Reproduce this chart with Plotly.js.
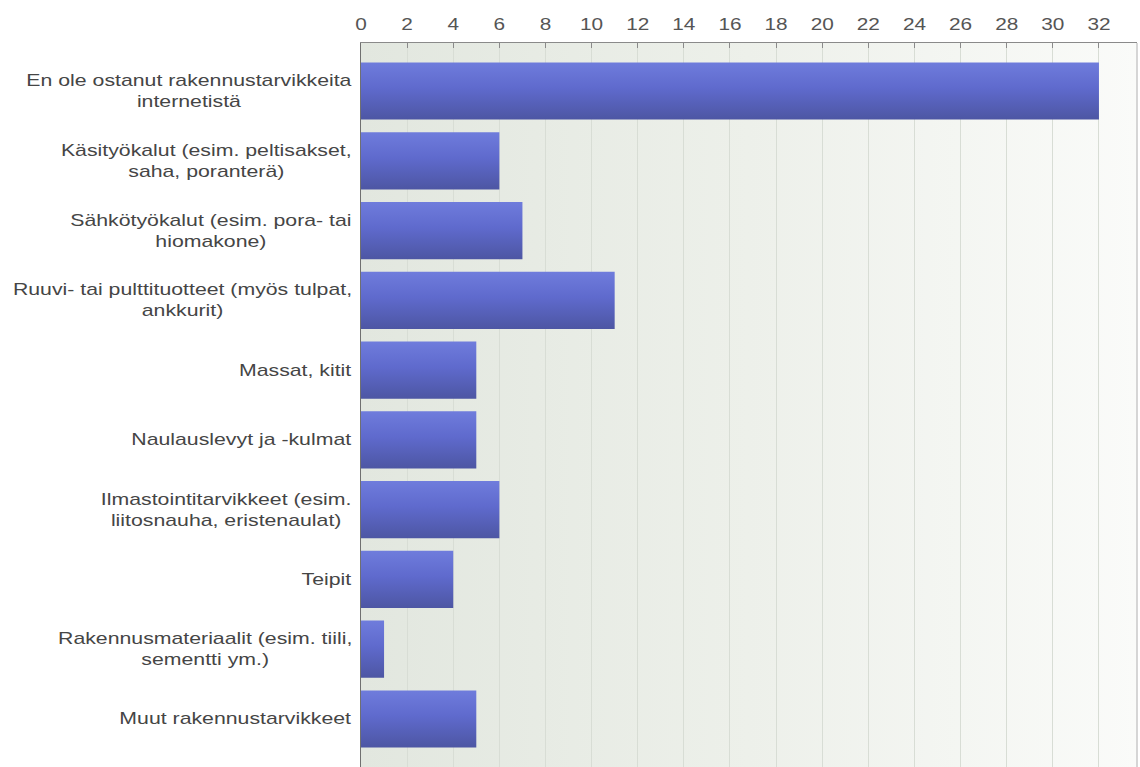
<!DOCTYPE html>
<html>
<head>
<meta charset="utf-8">
<script src="https://cdn.plot.ly/plotly-3.0.1.min.js"></script>
<style>
html,body{margin:0;padding:0;background:#fff;}
#chart{width:1140px;height:767px;}
</style>
</head>
<body>
<div id="chart"></div>
<script>
var categories = [
  "En ole ostanut rakennustarvikkeita<br>internetistä",
  "Käsityökalut (esim. peltisakset,<br>saha, poranterä)",
  "Sähkötyökalut (esim. pora- tai<br>hiomakone)",
  "Ruuvi- tai pulttituotteet (myös tulpat,<br>ankkurit)",
  "Massat, kitit",
  "Naulauslevyt ja -kulmat",
  "Ilmastointitarvikkeet (esim.<br>liitosnauha, eristenaulat)",
  "Teipit",
  "Rakennusmateriaalit (esim. tiili,<br>sementti ym.)",
  "Muut rakennustarvikkeet"
];
var counts = [32, 6, 7, 11, 5, 5, 6, 4, 1, 5];
var tickValues = [0,2,4,6,8,10,12,14,16,18,20,22,24,26,28,30,32];

var font = "Liberation Sans, Arial, sans-serif";

var trace = {
  type: 'bar',
  orientation: 'h',
  x: counts,
  y: categories,
  width: 0.82,
  marker: {color: '#5d68c9', line: {width: 0}},
  hoverinfo: 'x+y'
};

var annotations = categories.map(function(c){
  return {
    xref: 'paper', yref: 'y', x: 0, y: c,
    xanchor: 'right', yanchor: 'middle', xshift: -7,
    text: c, showarrow: false, align: 'center',
    font: {family: font, size: 16, color: '#454545'}
  };
});

var layout = {
  width: 1140, height: 767,
  margin: {l: 361, r: 3, t: 43, b: 0, pad: 0},
  paper_bgcolor: '#ffffff',
  plot_bgcolor: '#eef1ec',
  showlegend: false,
  xaxis: {
    side: 'top',
    range: [0, 33.65],
    tickvals: tickValues,
    ticktext: tickValues.map(String),
    showline: true, linecolor: '#8a8a8a', linewidth: 1.5,
    ticks: 'inside', ticklen: 5, tickcolor: '#8a8a8a',
    ticklabelstandoff: 5,
    showgrid: true, gridcolor: '#d8ddd5', gridwidth: 1,
    zeroline: false,
    tickfont: {family: font, size: 16, color: '#555555'}
  },
  yaxis: {
    type: 'category',
    range: [9.688, -0.688],
    showticklabels: false,
    showline: true, linecolor: '#707070', linewidth: 1.5,
    showgrid: false, zeroline: false, ticks: ''
  },
  annotations: annotations,
  shapes: [{
    type: 'line', xref: 'paper', yref: 'paper',
    x0: 1, x1: 1, y0: 0, y1: 1,
    line: {color: '#c8c8c8', width: 1.5}
  }]
};

function stretch(el, sx, anchor){
  var b = el.getBBox();
  var cx = anchor === 'right' ? b.x + b.width : b.x + b.width / 2;
  var t = el.getAttribute('transform') || '';
  el.setAttribute('transform', t + ' translate(' + cx + ',0) scale(' + sx + ',1) translate(' + (-cx) + ',0)');
}

Plotly.newPlot('chart', [trace], layout, {displayModeBar: false, staticPlot: true}).then(function(gd){
  var svg = gd.querySelector('svg.main-svg');
  var ns = 'http://www.w3.org/2000/svg';
  var defs = svg.querySelector('defs') || svg.insertBefore(document.createElementNS(ns,'defs'), svg.firstChild);
  function grad(id, x2, y2, stops){
    var g = document.createElementNS(ns, 'linearGradient');
    g.setAttribute('id', id);
    g.setAttribute('x1','0'); g.setAttribute('y1','0');
    g.setAttribute('x2', x2); g.setAttribute('y2', y2);
    stops.forEach(function(s){
      var st = document.createElementNS(ns,'stop');
      st.setAttribute('offset', s[0]);
      st.setAttribute('stop-color', s[1]);
      g.appendChild(st);
    });
    defs.appendChild(g);
  }
  grad('barGrad', '0', '1', [[0,'#6f7cdc'],[0.45,'#5f6acd'],[1,'#4d56a3']]);
  grad('bgGrad', '1', '0', [[0,'#e2e7df'],[0.5,'#edf0ea'],[1,'#fafbf9']]);
  var bg = gd.querySelector('.bglayer rect.bg');
  if (bg) bg.style.fill = 'url(#bgGrad)';
  gd.querySelectorAll('.barlayer .point path').forEach(function(p){
    p.style.fill = 'url(#barGrad)';
  });
  gd.querySelectorAll('.annotation-text-g text').forEach(function(t){ stretch(t, 1.33, 'right'); });
  gd.querySelectorAll('.xtick text').forEach(function(t){ stretch(t, 1.3, 'center'); });
});
</script>
</body>
</html>
